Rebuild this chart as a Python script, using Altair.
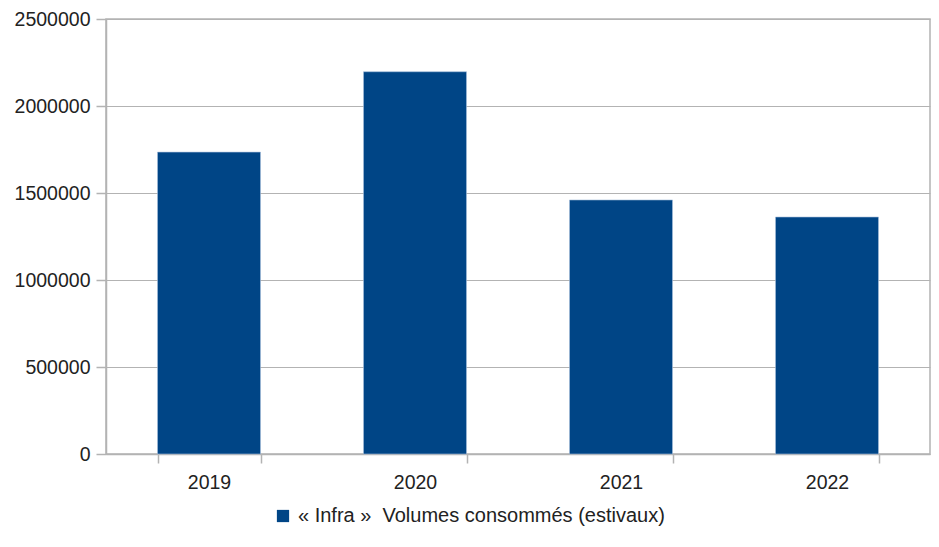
import altair as alt
import pandas as pd

years = ["2019", "2020", "2021", "2022"]
volumes = [1735000, 2197000, 1460000, 1362000]
series = "« Infra »\u00a0 Volumes consommés (estivaux)"

df = pd.DataFrame({"Année": years, "Volume": volumes, "Série": [series] * len(years)})

FONT = "Liberation Sans"
GRID = "#b3b3b3"

chart = alt.Chart(df).mark_bar(color="#004586", stroke="#a8c0dc", strokeWidth=0.6).encode(
    x=alt.X(
        "Année:N",
        title=None,
        sort=years,
        scale=alt.Scale(paddingInner=0.5, paddingOuter=0.25),
        axis=alt.Axis(
            labelAngle=0,
            tickBand="extent",
            tickSize=9,
            tickColor=GRID,
            tickWidth=1.5,
            domainColor=GRID,
            domainWidth=1.5,
            labelFont=FONT,
            labelFontSize=19.5,
            labelColor="#222222",
            labelPadding=10,
            grid=False,
        ),
    ),
    y=alt.Y(
        "Volume:Q",
        title=None,
        scale=alt.Scale(domain=[0, 2500000], nice=False),
        axis=alt.Axis(
            values=[0, 500000, 1000000, 1500000, 2000000, 2500000],
            format="d",
            tickSize=10,
            tickColor=GRID,
            tickWidth=1.5,
            domainColor=GRID,
            domainWidth=1.5,
            gridColor=GRID,
            gridWidth=1.2,
            labelFont=FONT,
            labelFontSize=19.5,
            labelColor="#222222",
            labelPadding=6,
        ),
    ),
    fill=alt.Fill(
        "Série:N",
        scale=alt.Scale(range=["#004586"]),
        legend=alt.Legend(
            title=None,
            orient="none",
            legendX=167,
            legendY=487,
            padding=0,
            symbolType="square",
            symbolSize=150,
            symbolStrokeWidth=0,
            labelFont=FONT,
            labelFontSize=20,
            labelColor="#222222",
            labelLimit=600,
            labelOffset=5,
        ),
    ),
).properties(
    width=824,
    height=435,
    autosize=alt.AutoSizeParams(type="none"),
    padding={"left": 98, "top": 11, "right": 1, "bottom": 74},
).configure_view(
    stroke=GRID, strokeWidth=1.5
)

chart.save("out.html", embed_options={"renderer": "svg", "actions": False})
